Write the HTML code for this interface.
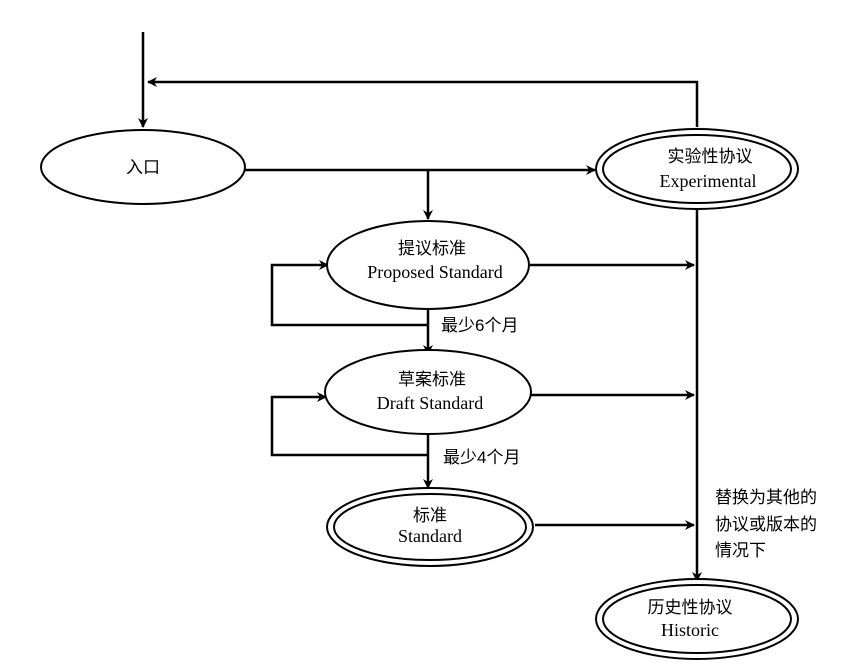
<!DOCTYPE html>
<html><head><meta charset="utf-8"><style>
html,body{margin:0;padding:0;background:#fff}
text{font-family:"Liberation Serif","Noto Serif CJK SC","Noto Sans CJK SC",serif;fill:#000}
.c{font-family:"Liberation Sans","Noto Sans CJK SC",sans-serif;font-size:17px}
.e{font-size:18px}
</style></head><body>
<svg width="852" height="665" viewBox="0 0 852 665" xmlns="http://www.w3.org/2000/svg">
<defs><marker id="a" markerWidth="10" markerHeight="10" refX="9" refY="5" orient="auto" markerUnits="userSpaceOnUse"><path d="M0,0 L10,5 L0,10 L3,5 z" fill="#000"/></marker></defs>
<g stroke="#000" stroke-width="2.5" fill="none">
<line x1="143" y1="32" x2="143" y2="127" marker-end="url(#a)"/>
<polyline points="697,127 697,82 148,82" marker-end="url(#a)"/>
<line x1="245" y1="170" x2="595" y2="170" marker-end="url(#a)"/>
<line x1="428" y1="170" x2="428" y2="219" marker-end="url(#a)"/>
<line x1="530" y1="265" x2="694" y2="265" marker-end="url(#a)"/>
<polyline points="428,325 272,325 272,265 328,265" marker-end="url(#a)"/>
<line x1="428" y1="310" x2="428" y2="354" marker-end="url(#a)"/>
<line x1="531" y1="395" x2="694" y2="395" marker-end="url(#a)"/>
<polyline points="428,455 272,455 272,397 326,397" marker-end="url(#a)"/>
<line x1="428" y1="434" x2="428" y2="488" marker-end="url(#a)"/>
<line x1="535" y1="525" x2="694" y2="525" marker-end="url(#a)"/>
<line x1="697" y1="208" x2="697" y2="581" marker-end="url(#a)"/>
</g>
<g stroke="#000" stroke-width="2" fill="#fff">
<ellipse cx="143" cy="167" rx="102" ry="37"/>
<ellipse cx="697" cy="169" rx="101" ry="40"/>
<ellipse cx="697" cy="169" rx="94" ry="34" fill="none"/>
<ellipse cx="428" cy="265" rx="101" ry="44"/>
<ellipse cx="428" cy="392" rx="103" ry="42"/>
<ellipse cx="430" cy="527" rx="103" ry="39"/>
<ellipse cx="430" cy="527" rx="96" ry="33" fill="none"/>
<ellipse cx="697" cy="619" rx="101" ry="40"/>
<ellipse cx="697" cy="619" rx="94" ry="34" fill="none"/>
</g>
<text class="c" x="143" y="173" text-anchor="middle">入口</text>
<text class="c" x="710" y="162" text-anchor="middle">实验性协议</text>
<text class="e" x="708" y="187" text-anchor="middle">Experimental</text>
<text class="c" x="432" y="254" text-anchor="middle">提议标准</text>
<text class="e" x="435" y="278" text-anchor="middle">Proposed Standard</text>
<text class="c" x="432" y="385" text-anchor="middle">草案标准</text>
<text class="e" x="430" y="409" text-anchor="middle">Draft Standard</text>
<text class="c" x="430" y="521" text-anchor="middle">标准</text>
<text class="e" x="430" y="542" text-anchor="middle">Standard</text>
<text class="c" x="690" y="613" text-anchor="middle">历史性协议</text>
<text class="e" x="690" y="636" text-anchor="middle">Historic</text>
<text class="c" x="441" y="331">最少6个月</text>
<text class="c" x="443" y="463">最少4个月</text>
<text class="c" x="715" y="503">替换为其他的</text>
<text class="c" x="715" y="530">协议或版本的</text>
<text class="c" x="715" y="556">情况下</text>
</svg>
</body></html>
